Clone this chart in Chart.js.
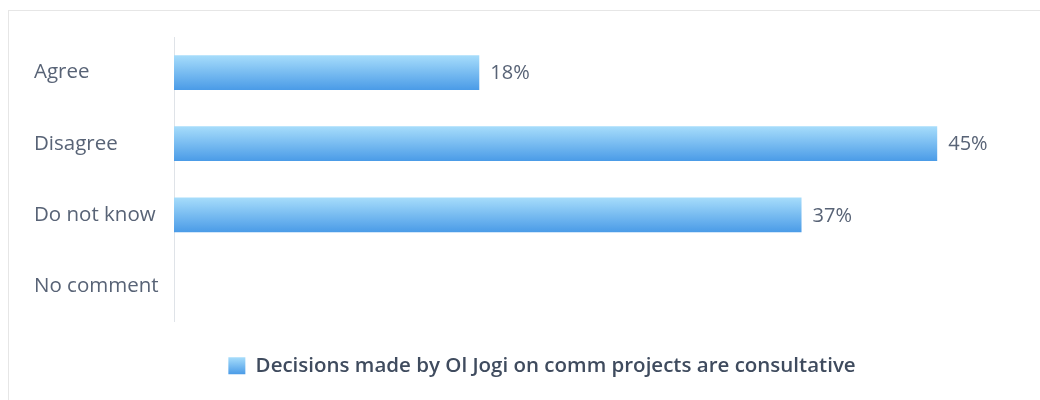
<!DOCTYPE html>
<html>
<head>
<meta charset="utf-8">
<script src="https://cdn.jsdelivr.net/npm/chart.js@4.4.1/dist/chart.umd.min.js"></script>
<style>
  html, body { margin: 0; padding: 0; background: #fff; overflow: hidden; }
  #frame { position: absolute; left: 8px; top: 10px; width: 1095px; height: 420px; border: 1px solid #e6e6e6; }
  #wrap { position: relative; width: 1095px; height: 389px; }
</style>
</head>
<body>
<div id="frame">
  <div id="wrap"><canvas id="surveyChart"></canvas></div>
</div>
<script>
var categories = ['Agree', 'Disagree', 'Do not know', 'No comment'];
var percents = [18, 45, 37, null];
var seriesName = 'Decisions made by Ol Jogi on comm projects are consultative';

var tickColor = '#586376';
var fontName = "'Open Sans', 'DejaVu Sans', sans-serif";

// gradient for one bar, top light -> bottom darker blue
var barGradient = (ctx, top, bottom) => {
  var g = ctx.createLinearGradient(0, top, 0, bottom);
  g.addColorStop(0, '#a7ddfb');
  g.addColorStop(1, '#4a9be7');
  return g;
};

var fillBar = (context) => {
  var chart = context.chart;
  var yScale = chart.scales.y;
  if (!yScale || context.dataIndex === undefined) return '#79bdf2';
  var center = yScale.getPixelForValue(context.dataIndex);
  if (!isFinite(center)) return '#79bdf2';
  var half = 17.5;
  return barGradient(chart.ctx, center - half, center + half);
};

// value labels at the end of each bar
var valueLabels = {
  id: 'valueLabels',
  afterDatasetsDraw(chart) {
    var ctx = chart.ctx;
    var meta = chart.getDatasetMeta(0);
    ctx.save();
    ctx.font = '20px ' + fontName;
    ctx.fillStyle = tickColor;
    ctx.textAlign = 'left';
    ctx.textBaseline = 'middle';
    meta.data.forEach((bar, i) => {
      if (percents[i] == null) return;
      ctx.fillText(percents[i] + '%', bar.x + 11, bar.y + 1);
    });
    ctx.restore();
  }
};

// legend sits a bit right of the plot centre in the original
var legendShift = {
  id: 'legendShift',
  afterLayout(chart) {
    var lg = chart.legend;
    if (!lg) return;
    lg.left += 14;
    lg.right += 14;
  }
};

// give the legend square the same gradient as the bars
var legendGradient = {
  id: 'legendGradient',
  beforeDraw(chart) {
    var lg = chart.legend;
    if (!lg || !lg.legendHitBoxes || !lg.legendHitBoxes.length) return;
    var hb = lg.legendHitBoxes[0];
    var boxTop = hb.top + (hb.height - 17) / 2;
    if (!isFinite(boxTop)) return;
    lg.legendItems[0].fillStyle = barGradient(chart.ctx, boxTop, boxTop + 17);
  }
};

new Chart(document.getElementById('surveyChart'), {
  type: 'bar',
  data: {
    labels: categories,
    datasets: [{
      label: seriesName,
      data: percents,
      backgroundColor: fillBar,
      borderWidth: 0,
      categoryPercentage: 1,
      barPercentage: 0.49
    }]
  },
  options: {
    indexAxis: 'y',
    responsive: true,
    maintainAspectRatio: false,
    animation: false,
    layout: {
      padding: { left: 25, top: 26, right: 82, bottom: 14 }
    },
    scales: {
      x: {
        display: false,
        min: 0,
        max: 50
      },
      y: {
        afterFit: (scale) => { scale.width = 140; },
        grid: { display: false, drawTicks: false },
        border: { display: true, color: '#dfe3e8', width: 1 },
        ticks: {
          crossAlign: 'far',
          color: tickColor,
          font: { family: fontName, size: 20.5 }
        }
      }
    },
    plugins: {
      tooltip: { enabled: false },
      legend: {
        position: 'bottom',
        labels: {
          boxWidth: 17,
          boxHeight: 17,
          padding: 34,
          color: '#3f4b5e',
          font: { family: fontName, size: 20.5, weight: '600' }
        }
      }
    }
  },
  plugins: [valueLabels, legendShift, legendGradient]
});
</script>
</body>
</html>
